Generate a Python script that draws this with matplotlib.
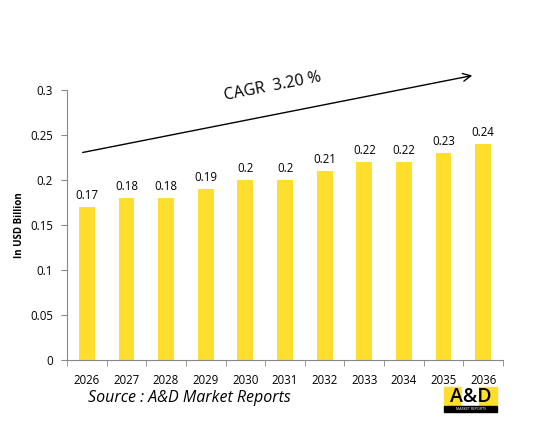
import matplotlib
matplotlib.use('Agg')
from matplotlib import pyplot as plt
from matplotlib.patches import Rectangle

years = ['2026', '2027', '2028', '2029', '2030', '2031', '2032', '2033', '2034', '2035', '2036']
values = [0.17, 0.18, 0.18, 0.19, 0.2, 0.2, 0.21, 0.22, 0.22, 0.23, 0.24]
value_labels = ['0.17', '0.18', '0.18', '0.19', '0.2', '0.2', '0.21', '0.22', '0.22', '0.23', '0.24']
cagr_text = 'CAGR  3.20 %'

plt.rcParams['font.family'] = ['Open Sans', 'DejaVu Sans']
yellow = '#FFDE2E'

fig = plt.figure(figsize=(5.36, 4.42), dpi=100)
ax = fig.add_axes([67/536, 82/442, 436/536, 270/442])

x = list(range(len(years)))
ax.bar(x, values, width=0.4, color=yellow)
for i in x:
    ax.text(i, values[i] + 0.006, value_labels[i], ha='center', va='bottom', fontsize=8.3)

ax.set_xlim(-0.5, len(years) - 0.5)
ax.set_ylim(0, 0.3)
ax.set_yticks([0, 0.05, 0.1, 0.15, 0.2, 0.25, 0.3])
ax.set_yticklabels(['0', '0.05', '0.1', '0.15', '0.2', '0.25', '0.3'], fontsize=8.3)
ax.set_xticks(x)
ax.set_xticklabels(years, fontsize=8.3)
ax.tick_params(axis='x', length=0, pad=10)
ax.set_xticks([i - 0.5 for i in range(len(years) + 1)], minor=True)
ax.tick_params(axis='x', which='minor', length=4, color='#888888', direction='out')
ax.tick_params(axis='y', length=4, color='#888888', pad=6)
for s in ['top', 'right']:
    ax.spines[s].set_visible(False)
ax.spines['left'].set_color('#888888')
ax.spines['bottom'].set_color('#888888')
ax.set_ylabel('In USD Billion', fontsize=7, fontweight='bold', labelpad=4)

# CAGR arrow
ax_arrow = fig.add_axes([0, 0, 1, 1], facecolor='none')
ax_arrow.set_xlim(0, 536)
ax_arrow.set_ylim(442, 0)
ax_arrow.axis('off')
ax_arrow.annotate('', xy=(475, 75), xytext=(80, 153),
                  arrowprops=dict(arrowstyle='->', color='black', lw=1, mutation_scale=14))
ax_arrow.text(273, 87, cagr_text, rotation=11, ha='center', va='center', fontsize=11.5)

# source
ax_arrow.text(88, 398, 'Source : A&D Market Reports', fontsize=11.5, style='italic',
              ha='left', va='center')

# logo
ax_arrow.add_patch(Rectangle((444, 387), 18, 19, color=yellow))
ax_arrow.add_patch(Rectangle((462, 387), 17, 19, color='white'))
ax_arrow.add_patch(Rectangle((479, 387), 18, 19, color=yellow))
ax_arrow.add_patch(Rectangle((444, 406), 53, 6, color='black'))
ax_arrow.text(470.5, 397, 'A&D', fontsize=14, fontweight='semibold', ha='center', va='center', color='black')
ax_arrow.text(470.5, 409.5, 'MARKET REPORTS', fontsize=2.5, ha='center', va='center', color='white')

plt.savefig('out.png', dpi=100)
